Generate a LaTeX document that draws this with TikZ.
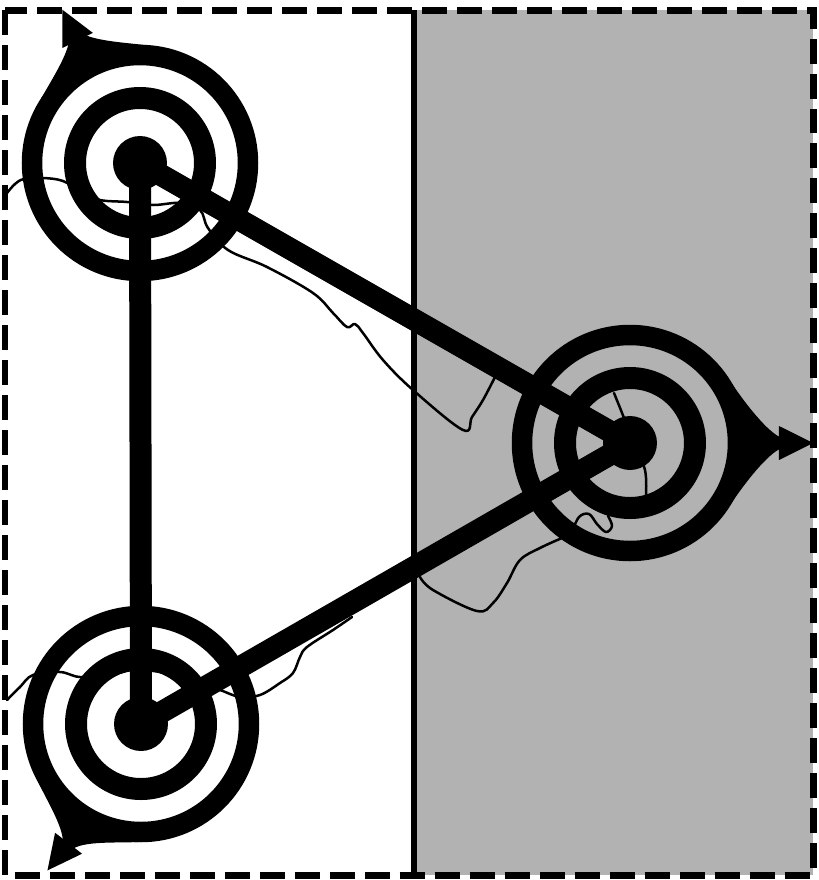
\documentclass[tikz,border=0pt]{standalone}
\usetikzlibrary{arrows.meta}
\tikzset{
  hub/.style={circle, fill=black, inner sep=0pt, minimum size=1.08cm},
  outerring/.style={draw=black, line width=0.41cm},
  innerring/.style={draw=black, line width=0.44cm},
  bar/.style={draw=black, line width=0.44cm},
  crack/.style={draw=black, line width=0.05cm, line cap=round, line join=round},
  pointer/.style={draw=black, line width=0.16cm, -{Triangle[length=20pt,width=18pt]}},
  frame/.style={draw=black, line width=0.14cm, dash pattern=on 0.5cm off 0.2cm}
}
\begin{document}
\begin{tikzpicture}[x=0.02cm, y=-0.02cm]
\useasboundingbox (0,0) rectangle (819,880);
% stippled half and frame
\fill[black!30] (414,10) rectangle (813,875);
\draw[line width=0.12cm] (414,10) -- (414,875);
\draw[frame] (5,10) rectangle (813,875);

% sites
\node[hub] (tl) at (140,163) {};
\node[hub] (bl) at (141,724) {};
\node[hub] (rt) at (630,443) {};
\coordinate (tltip) at (62,9);
\coordinate (bltip) at (47,871);
\coordinate (rttip) at (814,443);

% thin boundary lines
\draw[crack] plot[smooth, tension=0.6] coordinates {(7,193) (15,184) (24,179) (43,178) (63,181)
  (82,192) (100,200) (127,202) (153,205) (180,203) (200,210) (208,228) (228,250) (267,267)
  (313,293) (333,313) (347,327) (355,324) (363,333) (383,360) (413,390) (463,430) (472,417)
  (483,400) (495,377)};
\draw[crack] plot[smooth, tension=0.6] coordinates {(7,700) (20,687) (33,675) (60,672) (80,677)
  (110,675) (133,670) (160,672) (190,680) (220,690) (240,697) (260,695) (280,683) (293,673)
  (300,657) (307,647) (333,630) (352,617)};
\draw[crack] plot[smooth, tension=0.6] coordinates {(420,577) (433,590) (477,611) (493,603)
  (507,583) (520,560) (540,548) (562,538)};
\draw[crack] plot[smooth, tension=0.6] coordinates {(572,532) (579,517) (589,514) (597,524)
  (606,532) (612,526) (608,516)};
\draw[crack] plot[smooth, tension=0.6] coordinates {(614,393) (624,418) (634,445) (645,470) (646,496)};

% connectors
\draw[bar] (tl.center) -- (bl.center);
\draw[bar] (tl.center) -- (rt.center);
\draw[bar] (bl.center) -- (rt.center);

% rings
\draw[innerring] (tl.center) circle[radius=65];
\draw[innerring] (bl.center) circle[radius=65];
\draw[innerring] (rt.center) circle[radius=65];
\draw[outerring] (tl.center) circle[radius=108];
\draw[outerring] (bl.center) circle[radius=108];
\draw[outerring] (rt.center) circle[radius=108];

% teardrop outlets
\begin{scope}[shift={(tl.center)}, rotate=-243]
  \fill (-30:100) -- (-30:118) .. controls (115,-40) and (132,-10) .. (146,-5) -- (146,5)
    .. controls (132,10) and (115,40) .. (30:118) -- (30:100)
    arc[start angle=30, end angle=-30, radius=100] -- cycle;
  \coordinate (tlapex) at (136,0);
\end{scope}
\begin{scope}[shift={(bl.center)}, rotate=-121]
  \fill (-30:100) -- (-30:118) .. controls (115,-40) and (130,-10) .. (144,-5) -- (144,5)
    .. controls (130,10) and (115,40) .. (30:118) -- (30:100)
    arc[start angle=30, end angle=-30, radius=100] -- cycle;
  \coordinate (blapex) at (134,0);
\end{scope}
\begin{scope}[shift={(rt.center)}]
  \fill (-30:100) -- (-30:118) .. controls (115,-40) and (138,-10) .. (152,-5) -- (152,5)
    .. controls (138,10) and (115,40) .. (30:118) -- (30:100)
    arc[start angle=30, end angle=-30, radius=100] -- cycle;
  \coordinate (rtapex) at (142,0);
\end{scope}
\draw[pointer] (tlapex) -- (tltip);
\draw[pointer] (blapex) -- (bltip);
\draw[pointer] (rtapex) -- (rttip);
\end{tikzpicture}
\end{document}
